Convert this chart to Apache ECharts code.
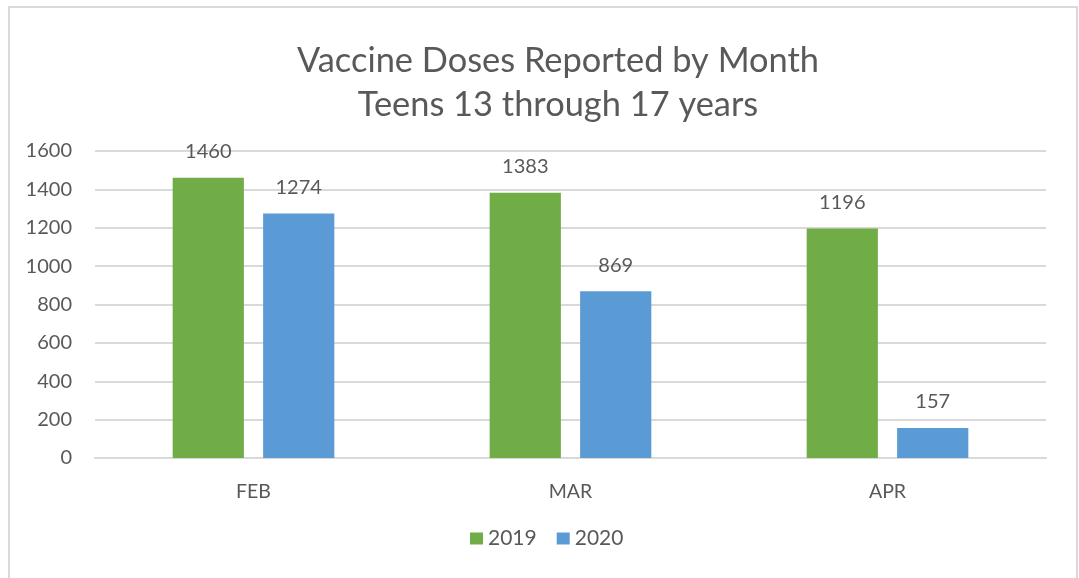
<!DOCTYPE html>
<html><head><meta charset="utf-8">
<script src="https://cdn.jsdelivr.net/npm/echarts@6/dist/echarts.min.js"></script>
<style>html,body{margin:0;padding:0;background:#fff}#c{width:1079px;height:578px}</style>
</head><body><div id="c"></div>
<script>
const categories = ['FEB', 'MAR', 'APR'];
const series2019 = [1460, 1383, 1196];
const series2020 = [1274, 869, 157];
const yTicks = [0, 200, 400, 600, 800, 1000, 1200, 1400, 1600];

const font = 'Lato';
const textColor = '#595959';
const chart = echarts.init(document.getElementById('c'));
chart.setOption({
  animation: false,
  textStyle: { fontFamily: font },
  graphic: [{ type: 'rect', shape: { x: 9, y: 7, width: 1068, height: 590 }, style: { fill: 'none', stroke: '#d9d9d9', lineWidth: 2 }, silent: true }],
  title: {
    text: 'Vaccine Doses Reported by Month\nTeens 13 through 17 years',
    left: 553, top: 34, textAlign: 'center',
    textStyle: { fontFamily: font, fontSize: 34.4, fontWeight: 'normal', color: textColor, lineHeight: 44 }
  },
  legend: {
    bottom: 24, left: 465, itemWidth: 13, itemHeight: 12, itemGap: 20,
    icon: 'rect',
    textStyle: { fontFamily: font, fontSize: 21, color: textColor },
    data: ['2019', '2020']
  },
  grid: { left: 95, right: 33, top: 151, bottom: 120 },
  xAxis: {
    type: 'category', data: categories,
    axisLine: { show: true, lineStyle: { color: '#d9d9d9', width: 2 } },
    axisTick: { show: false },
    axisLabel: { fontFamily: font, fontSize: 19.5, color: textColor, margin: 24 }
  },
  yAxis: {
    type: 'value', min: yTicks[0], max: yTicks[yTicks.length - 1], interval: 200,
    axisLine: { show: false }, axisTick: { show: false },
    splitLine: { lineStyle: { color: '#d9d9d9', width: 2 } },
    axisLabel: { fontFamily: font, fontSize: 20, color: textColor, margin: 23, formatter: v => String(v) }
  },
  series: [
    { name: '2019', type: 'bar', data: series2019, barGap: '27%', barCategoryGap: '49%',
      itemStyle: { color: '#70AD47' },
      label: { show: true, position: 'top', distance: 16, fontFamily: font, fontSize: 20, color: textColor } },
    { name: '2020', type: 'bar', data: series2020,
      itemStyle: { color: '#5B9BD5' },
      label: { show: true, position: 'top', distance: 16, fontFamily: font, fontSize: 20, color: textColor } }
  ]
});
</script></body></html>
